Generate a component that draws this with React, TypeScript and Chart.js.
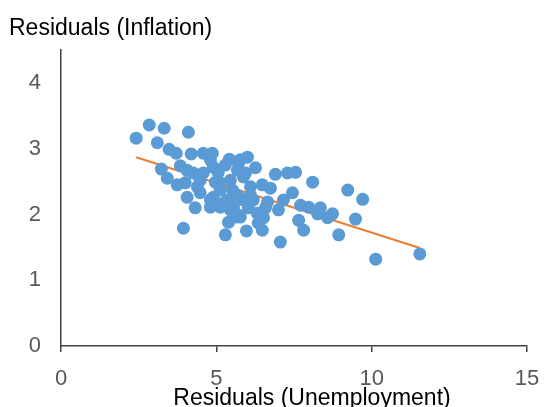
import React, { useEffect, useRef } from 'react';
import { Chart, registerables } from 'chart.js';

Chart.register(...registerables);

const unemploymentResiduals = [
  2.42, 2.84, 3.32, 4.10, 3.10, 3.48, 3.71, 4.19, 4.58, 4.87, 3.23, 3.42, 3.84, 4.06, 3.74, 4.06, 4.32, 3.94, 5.29, 5.97, 5.42, 6.00, 5.77,
  4.81, 4.58, 4.39, 4.48, 4.81, 4.97, 5.13, 5.45, 5.35, 5.55, 5.77, 5.39, 5.13, 4.81, 5.68, 5.87, 6.10, 6.19, 6.32, 6.35,
  4.26, 4.00, 4.90, 5.13, 4.90, 5.23, 5.45, 5.61, 5.71, 5.94, 5.68, 5.71, 6.03, 6.58, 6.65, 6.26, 6.90, 6.74, 6.52, 6.48,
  7.16, 7.00, 7.06, 7.29, 7.55, 7.45, 7.71, 7.97, 7.65, 7.81, 8.10, 8.35, 8.26, 8.74, 8.58, 9.48, 8.94, 9.23, 9.71, 10.13, 11.55,
  5.06, 5.29, 4.48, 6.10, 5.87, 5.52, 6.48,
];

const inflationResiduals = [
  3.16, 3.36, 3.31, 3.25, 3.09, 2.99, 2.93, 2.92, 2.93, 2.93, 2.69, 2.55, 2.74, 2.67, 2.45, 2.26, 2.10, 1.79, 1.69, 1.75, 2.84, 2.87, 2.83,
  2.83, 2.63, 2.42, 2.33, 2.22, 2.49, 2.37, 2.52, 2.22, 2.11, 1.96, 1.88, 2.11, 2.11, 2.67, 2.57, 2.42, 2.22, 2.02, 1.87,
  2.63, 2.48, 2.72, 2.48, 2.26, 2.17, 2.07, 1.96, 2.78, 2.63, 2.29, 1.99, 2.10, 2.10, 2.19, 2.71, 2.61, 2.40, 1.95, 1.76,
  2.22, 2.07, 1.58, 2.63, 2.64, 2.33, 2.14, 2.11, 1.91, 1.76, 2.49, 2.10, 2.01, 2.01, 1.95, 1.93, 1.69, 2.37, 2.23, 1.32, 1.40,
  2.64, 2.75, 2.52, 2.29, 2.22, 2.37, 2.45,
];

const trendX = [2.42, 11.55];
const trendY = [2.87, 1.49];

const xTicks = [0, 5, 10, 15];
const yTicks = [0, 1, 2, 3, 4];

const xAxisTitle = 'Residuals (Unemployment)';
const yAxisTitle = 'Residuals (Inflation)';

const FONT = '"Liberation Sans", Arial, sans-serif';

const axisTitlesPlugin = {
  id: 'axisTitlesFree',
  afterDraw(chart: any) {
    const ctx = chart.ctx;
    ctx.save();
    ctx.font = `23px ${FONT}`;
    ctx.fillStyle = '#000000';
    ctx.textBaseline = 'alphabetic';
    ctx.textAlign = 'left';
    ctx.fillText(yAxisTitle, 9, 35);
    ctx.textAlign = 'center';
    ctx.fillText(xAxisTitle, 312, 405);
    ctx.restore();
  },
};

export default function App() {
  const ref = useRef<HTMLCanvasElement | null>(null);

  useEffect(() => {
    if (!ref.current) return;
    const points = unemploymentResiduals.map((x, i) => ({ x, y: inflationResiduals[i] }));
    const trend = trendX.map((x, i) => ({ x, y: trendY[i] }));
    const chart = new Chart(ref.current, {
      type: 'scatter',
      data: {
        datasets: [
          {
            type: 'scatter',
            label: 'Residuals',
            data: points,
            backgroundColor: '#5B9BD5',
            borderColor: '#5B9BD5',
            borderWidth: 0,
            pointRadius: 6.5,
            order: 1,
          },
          {
            type: 'line',
            label: 'Trend',
            data: trend,
            borderColor: '#ED7D31',
            borderWidth: 2,
            pointRadius: 0,
            fill: false,
            order: 2,
          } as any,
        ],
      },
      options: {
        animation: false,
        responsive: false,
        layout: { padding: { top: 50, right: 20, left: 0, bottom: 0 } },
        plugins: {
          legend: { display: false },
          tooltip: { enabled: false },
          title: { display: false },
        },
        scales: {
          x: {
            type: 'linear',
            min: 0,
            max: 15,
            afterBuildTicks: (s: any) => {
              s.ticks = xTicks.map((v) => ({ value: v }));
            },
            afterFit: (s: any) => {
              s.height = 61;
              s.paddingLeft = 0;
              s.paddingRight = 0;
            },
            grid: {
              drawOnChartArea: false,
              drawTicks: true,
              tickLength: 6,
              color: '#404040',
              lineWidth: 1.5,
            },
            border: { display: true, color: '#404040', width: 1.5 },
            ticks: {
              color: '#595959',
              font: { size: 22, family: FONT },
              padding: 14,
              maxRotation: 0,
              autoSkip: false,
            },
          },
          y: {
            type: 'linear',
            min: 0,
            max: 4.5,
            afterBuildTicks: (s: any) => {
              s.ticks = yTicks.map((v) => ({ value: v }));
            },
            afterFit: (s: any) => {
              s.width = 61;
              s.paddingTop = 0;
              s.paddingBottom = 0;
            },
            grid: { drawOnChartArea: false, drawTicks: false },
            border: { display: true, color: '#404040', width: 1.5 },
            ticks: {
              color: '#595959',
              font: { size: 22, family: FONT },
              padding: 20,
            },
          },
        },
      },
      plugins: [axisTitlesPlugin],
    });
    return () => chart.destroy();
  }, []);

  return (
    <div style={{ position: 'fixed', left: 0, top: 0, width: 547, height: 407, background: '#ffffff' }}>
      <canvas ref={ref} width={547} height={407} style={{ width: 547, height: 407, display: 'block' }} />
    </div>
  );
}
